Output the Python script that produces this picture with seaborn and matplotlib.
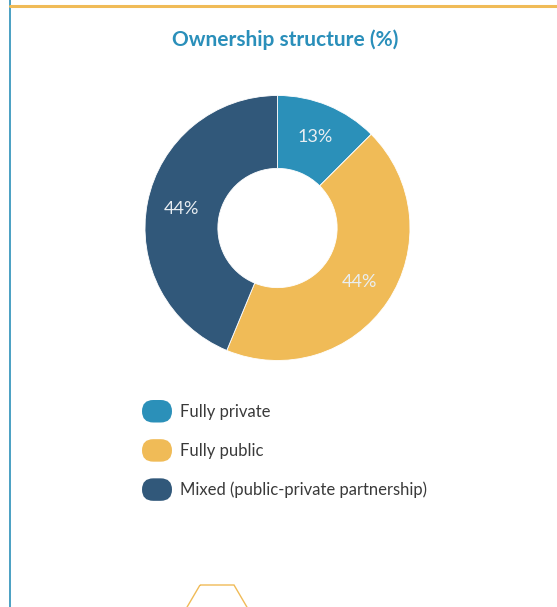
"""Ownership structure donut chart."""
import numpy as np
import matplotlib
matplotlib.use("Agg")
import matplotlib.pyplot as plt
import matplotlib.patches as mpatches
from matplotlib.legend_handler import HandlerPatch
import seaborn as sns

# data
categories = ["Fully private", "Fully public", "Mixed (public-private partnership)"]
shares = [12.5, 43.75, 43.75]
share_labels = ["13%", "44%", "44%"]
colors = ["#2b90b9", "#f0bb57", "#31587a"]

sns.set_style("white")
plt.rcParams["font.family"] = ["Lato", "DejaVu Sans"]

W, H = 557, 607
fig = plt.figure(figsize=(W / 100, H / 100), dpi=100)


def fx(px):
    return px / W


def fy(py):
    return 1 - py / H


# frame decoration: blue left rule, orange top rule, hexagon at the bottom
fig.add_artist(plt.Line2D([fx(10), fx(10)], [0, 1], color="#2b90b9", lw=1.2))
fig.add_artist(plt.Line2D([fx(10), 1], [fy(6), fy(6)], color="#f0bb57", lw=2.2))
hexagon = [(200, 585), (234, 585), (251, 614), (234, 644), (200, 644), (183, 614)]
fig.add_artist(mpatches.Polygon([(fx(x), fy(y)) for x, y in hexagon], closed=True,
                                fill=False, edgecolor="#f0bb57", lw=1.0))

fig.text(fx(285), fy(40), "Ownership structure (%)", ha="center", va="center",
         fontsize=15, fontweight="bold", color="#2a8fba")

# donut
cx, cy, r = 277.5, 228, 132.5
ax = fig.add_axes([fx(cx - r), fy(cy + r), fx(2 * r), (2 * r) / H])
wedges, texts = ax.pie(shares, colors=colors, startangle=90, counterclock=False,
                       radius=1.0, labels=share_labels, labeldistance=0.74,
                       wedgeprops=dict(width=0.55, edgecolor="white", linewidth=0.6),
                       textprops=dict(color="#e9eef2", fontsize=13,
                                      ha="center", va="center"))
ax.set_xlim(-1, 1)
ax.set_ylim(-1, 1)
ax.set_aspect("equal")
ax.axis("off")


class PillHandler(HandlerPatch):
    def create_artists(self, legend, orig_handle, xdescent, ydescent,
                       width, height, fontsize, trans):
        p = mpatches.FancyBboxPatch((-xdescent, -ydescent), width, height,
                                    boxstyle=f"round,pad=0,rounding_size={height / 2}",
                                    facecolor=orig_handle.get_facecolor(),
                                    edgecolor="none", transform=trans)
        return [p]


handles = [mpatches.Patch(facecolor=c) for c in colors]
leg = fig.legend(handles, categories, loc="upper left",
                 bbox_to_anchor=(fx(142), fy(400)), borderaxespad=0, borderpad=0,
                 frameon=False, fontsize=12, handlelength=1.8, handleheight=1.7,
                 handletextpad=0.45, labelspacing=1.0,
                 handler_map={mpatches.Patch: PillHandler()})
for t in leg.get_texts():
    t.set_color("#3a3a3a")

fig.savefig("out.png", dpi=100)
